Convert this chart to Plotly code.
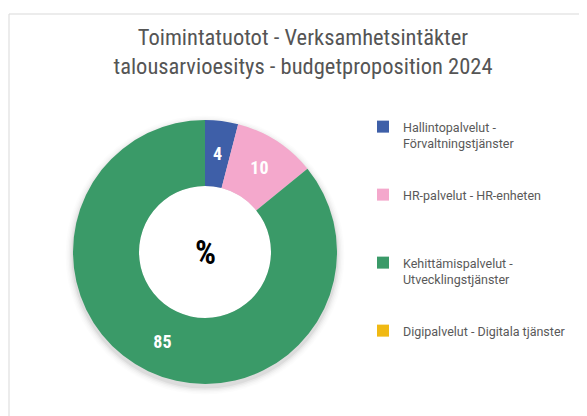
import plotly.graph_objects as go

labels = ["Hallintopalvelut -<br>Förvaltningstjänster<br> <br> ",
          "HR-palvelut - HR-enheten<br> <br> <br> ",
          "Kehittämispalvelut -<br>Utvecklingstjänster<br> <br> ",
          "Digipalvelut - Digitala tjänster<br> <br> <br> "]
values = [4, 10, 85, 0]
colors = ["#3E5FA8", "#F4A8CC", "#3A9A68", "#F0B913"]
title_lines = ["Toimintatuotot - Verksamhetsintäkter",
               "talousarvioesitys - budgetproposition 2024"]
center_text = "%"

W, H = 587, 416
OFF = 8  # page body margin
NARROW = "Liberation Sans Narrow, Roboto Condensed, Arial Narrow, sans-serif"


def px(x):
    return (x - OFF) / W


def py(y):
    return 1 - (y - OFF) / H


cx, cy, r = 205, 252, 132
hole = 0.5
label_font = dict(family=NARROW, size=18, color="white", weight="bold")

# the wide slices carry their labels on the ring itself
ring_text = [str(v) if v >= 10 else "" for v in values]
# the thin slice's label is laid out by a transparent companion pie
thin_text = [str(v) if 0 < v < 10 else "" for v in values]


def dom(rad):
    return dict(x=[px(cx - rad), px(cx + rad)], y=[py(cy + rad), py(cy - rad)])


fig = go.Figure()
fig.add_trace(go.Pie(
    labels=labels, values=values,
    text=ring_text, textinfo="text", textposition="inside",
    insidetextorientation="horizontal", textfont=label_font,
    marker=dict(colors=colors, line=dict(width=0)),
    hole=hole, sort=False, direction="clockwise", rotation=0,
    domain=dom(r), showlegend=True,
))
fig.add_trace(go.Pie(
    labels=labels, values=values,
    text=thin_text, textinfo="text", textposition="inside",
    insidetextorientation="horizontal", textfont=label_font,
    marker=dict(colors=["rgba(0,0,0,0)"] * len(values), line=dict(width=0)),
    sort=False, direction="clockwise", rotation=0,
    domain=dom(r * 0.85), showlegend=False, hoverinfo="skip",
))

fig.add_annotation(text="<b>" + center_text + "</b>", x=px(cx), y=py(cy),
                   xref="paper", yref="paper", showarrow=False,
                   font=dict(family=NARROW, size=33, color="black"))

# soft drop shadow behind the ring
shadow = []
for i, a in enumerate([0.05, 0.035, 0.025, 0.015, 0.01]):
    rr = r + 1.5 * (i + 1)
    shadow.append(dict(type="circle", xref="paper", yref="paper", layer="below",
                       x0=px(cx - rr), x1=px(cx + rr), y0=py(cy + 3 + rr), y1=py(cy + 3 - rr),
                       fillcolor="rgba(0,0,0,%s)" % a, line=dict(width=0)))
rh = r * hole
shadow.append(dict(type="circle", xref="paper", yref="paper", layer="below",
                   x0=px(cx - rh), x1=px(cx + rh), y0=py(cy + rh), y1=py(cy - rh),
                   fillcolor="white", line=dict(width=0)))

fig.update_layout(
    width=W, height=H,
    margin=dict(l=0, r=0, t=0, b=0),
    paper_bgcolor="white",
    title=dict(text="<br>".join(title_lines), x=px(303), xanchor="center",
               yref="container", y=py(45), yanchor="top",
               font=dict(family=NARROW, size=22.5, color="#555555", weight="normal")),
    legend=dict(x=px(363), y=py(112), xanchor="left", yanchor="top",
                font=dict(family="Roboto, sans-serif", size=12.5, color="#595959"),
                traceorder="normal", valign="top"),
    shapes=shadow + [
        dict(type="line", xref="paper", yref="paper", x0=px(9), x1=1, y0=py(14), y1=py(14),
             line=dict(color="#D9D9D9", width=1)),
        dict(type="line", xref="paper", yref="paper", x0=px(9), x1=px(9), y0=0, y1=py(14),
             line=dict(color="#D9D9D9", width=1)),
    ],
)

fig.write_html("out.html")
